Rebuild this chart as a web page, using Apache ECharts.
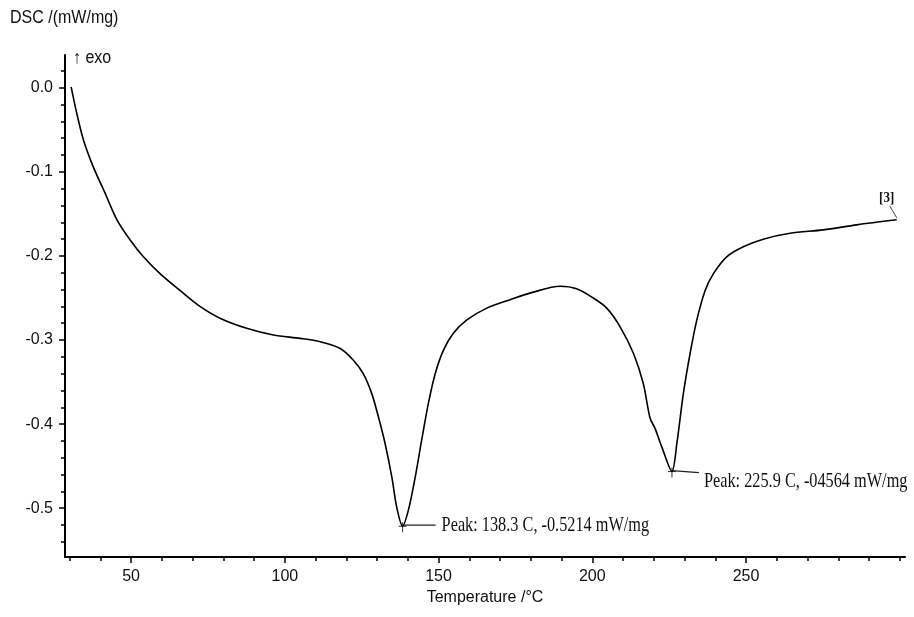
<!DOCTYPE html>
<html>
<head>
<meta charset="utf-8">
<script src="https://cdn.jsdelivr.net/npm/echarts@6/dist/echarts.min.js"></script>
<style>
  html, body { margin: 0; padding: 0; background: #fff; }
  #chart { width: 914px; height: 617px; }
</style>
</head>
<body>
<div id="chart"></div>
<script>
// DSC heating curve (mW/mg vs. temperature in °C)
const temperature = [
  30.5, 32.3, 34.5, 37.7, 41.5, 45.4, 49.7, 54.0, 59.4, 65.9, 72.4, 78.9, 87.6, 96.3,
  105.0, 111.5, 118.0, 122.3, 125.5, 128.3, 130.4, 132.6, 134.8, 136.4, 138.3,
  140.2, 142.4, 144.5, 146.7, 148.9, 151.6, 154.8, 159.2, 165.7, 173.3, 180.8,
  189.5, 194.9, 200.3, 204.7, 209.0, 213.4, 216.6, 218.8, 220.4, 222.6, 225.9,
  227.5, 229.6, 231.8, 234.0, 236.7, 239.4, 243.7, 249.1, 255.6, 264.3, 275.1,
  286.0, 299.0
];
const dsc = [
  0.001, -0.030, -0.062, -0.094, -0.125, -0.157, -0.181, -0.201, -0.221, -0.241, -0.260, -0.274, -0.286, -0.294,
  -0.298, -0.302, -0.310, -0.324, -0.340, -0.364, -0.391, -0.423, -0.463, -0.499, -0.5214,
  -0.502, -0.463, -0.419, -0.375, -0.340, -0.312, -0.292, -0.276, -0.262, -0.252, -0.243,
  -0.236, -0.239, -0.250, -0.262, -0.284, -0.316, -0.352, -0.393, -0.405, -0.427, -0.4564,
  -0.423, -0.364, -0.316, -0.276, -0.241, -0.221, -0.201, -0.189, -0.180, -0.173, -0.169,
  -0.163, -0.157
];

const xMajorTicks = [50, 100, 150, 200, 250];
const xMinorTicks = [30, 40, 60, 70, 80, 90, 110, 120, 130, 140, 160, 170, 180, 190,
  210, 220, 230, 240, 260, 270, 280, 290, 300];
const yMajorTicks = [0, -0.1, -0.2, -0.3, -0.4, -0.5];
const yMinorTicks = [0.02, -0.02, -0.04, -0.06, -0.08, -0.12, -0.14, -0.16, -0.18,
  -0.22, -0.24, -0.26, -0.28, -0.32, -0.34, -0.36, -0.38, -0.42, -0.44, -0.46, -0.48,
  -0.52, -0.54];

const peakTemps = [138.3, 225.9];
const peakValues = [-0.5214, -0.4564];
const peakLabels = ['Peak: 138.3 C, -0.5214 mW/mg', 'Peak: 225.9 C, -04564 mW/mg'];
const curveTag = '[3]';

const SANS = '"Liberation Sans", Arial, sans-serif';
const SERIF = '"Liberation Serif", "Times New Roman", serif';

const chart = echarts.init(document.getElementById('chart'));

const xRange = { min: 28.5, max: 301.7 };
const yRange = { min: -0.558, max: 0.039 };

chart.setOption({
  animation: false,
  backgroundColor: '#ffffff',
  grid: { left: 65, right: 9, top: 55, bottom: 60 },
  xAxis: [
    {
      type: 'value', min: xRange.min, max: xRange.max, position: 'bottom',
      name: 'Temperature /°C', nameLocation: 'middle', nameGap: 32,
      nameTextStyle: { fontFamily: SANS, fontSize: 16, color: '#111' },
      axisLine: { show: true, onZero: false, lineStyle: { color: '#000', width: 2 } },
      axisTick: { show: true, customValues: xMajorTicks, length: 6, lineStyle: { color: '#000', width: 1.5 } },
      axisLabel: { show: true, customValues: xMajorTicks, margin: 12, fontFamily: SANS, fontSize: 16, color: '#111' },
      splitLine: { show: false }
    },
    {
      type: 'value', min: xRange.min, max: xRange.max, position: 'bottom',
      axisLine: { show: false, onZero: false },
      axisTick: { show: true, customValues: xMinorTicks, length: 4, lineStyle: { color: '#000', width: 1.5 } },
      axisLabel: { show: false },
      splitLine: { show: false }
    }
  ],
  yAxis: [
    {
      type: 'value', min: yRange.min, max: yRange.max, position: 'left',
      axisLine: { show: true, onZero: false, lineStyle: { color: '#000', width: 2 } },
      axisTick: { show: true, customValues: yMajorTicks, length: 6, lineStyle: { color: '#000', width: 1.5 } },
      axisLabel: {
        show: true, customValues: yMajorTicks, margin: 12,
        fontFamily: SANS, fontSize: 16, color: '#111',
        formatter: v => v.toFixed(1)
      },
      splitLine: { show: false }
    },
    {
      type: 'value', min: yRange.min, max: yRange.max, position: 'left',
      axisLine: { show: false, onZero: false },
      axisTick: { show: true, customValues: yMinorTicks, length: 4, lineStyle: { color: '#000', width: 1.5 } },
      axisLabel: { show: false },
      splitLine: { show: false }
    }
  ],
  series: [{
    type: 'line',
    xAxisIndex: 0, yAxisIndex: 0,
    data: temperature.map((t, i) => [t, dsc[i]]),
    showSymbol: false,
    smooth: 0.3,
    lineStyle: { color: '#000', width: 1.6 }
  }]
});

// Annotations placed from data coordinates
function drawAnnotations() {
  const els = [];
  const toPx = (t, v) => chart.convertToPixel({ xAxisIndex: 0, yAxisIndex: 0 }, [t, v]);

  // axis unit heading
  els.push({
    type: 'text', x: 10, y: 18, scaleY: 1.15,
    style: { text: 'DSC /(mW/mg)', fontFamily: SANS, fontSize: 16, fill: '#111', textVerticalAlign: 'middle' }
  });

  // "exo" direction marker at the top of the y axis
  const top = toPx(xRange.min, yRange.max);
  els.push({
    type: 'text', x: top[0] + 8, y: top[1] + 3, scaleY: 1.15,
    style: { text: '↑ exo', fontFamily: SANS, fontSize: 16, fill: '#111', textVerticalAlign: 'middle' }
  });

  // leader geometry per peak: [line length, text offset, text drop]
  const leader = [[33, 39, 0], [27, 32, 11]];
  peakTemps.forEach((t, i) => {
    const p = toPx(t, peakValues[i]);
    const [len, off, dy] = leader[i];
    // small cross at the peak
    els.push({ type: 'line', shape: { x1: p[0] - 4, y1: p[1], x2: p[0] + 4, y2: p[1] }, style: { stroke: '#333', lineWidth: 1 } });
    els.push({ type: 'line', shape: { x1: p[0], y1: p[1] - 4, x2: p[0], y2: p[1] + 6 }, style: { stroke: '#333', lineWidth: 1 } });
    els.push({ type: 'line', shape: { x1: p[0], y1: p[1] - 1, x2: p[0] + len, y2: p[1] + (i === 0 ? -1 : 1) }, style: { stroke: '#222', lineWidth: 1.2 } });
    els.push({
      type: 'text', x: p[0] + off, y: p[1] - 1 + dy,
      scaleY: 1.25,
      style: { text: peakLabels[i], fontFamily: SERIF, fontSize: 16.3, fill: '#111', textVerticalAlign: 'middle' }
    });
  });

  // curve tag at the end of the trace
  const n = temperature.length - 1;
  const e = toPx(temperature[n], dsc[n]);
  els.push({ type: 'line', shape: { x1: e[0] - 7, y1: e[1] - 14, x2: e[0], y2: e[1] - 2 }, style: { stroke: '#444', lineWidth: 1 } });
  els.push({
    type: 'text', x: e[0] - 10, y: e[1] - 22, scaleY: 1.2,
    style: { text: curveTag, fontFamily: SERIF, fontSize: 13, fontWeight: 'bold', fill: '#111', textAlign: 'center', textVerticalAlign: 'middle' }
  });

  chart.setOption({ graphic: els });
}
drawAnnotations();
</script>
</body>
</html>
